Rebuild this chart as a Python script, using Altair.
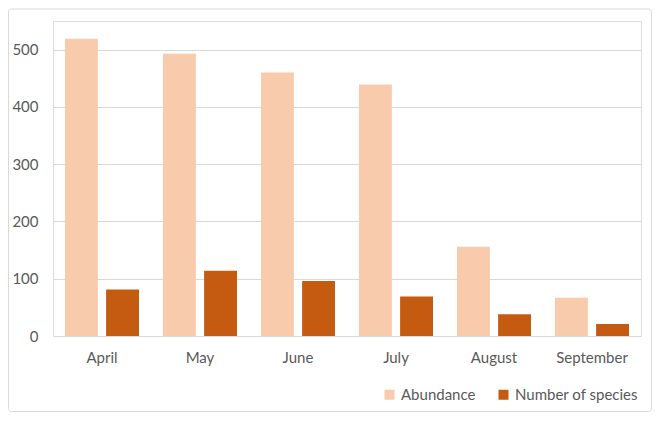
import altair as alt
import pandas as pd

months = ["April", "May", "June", "July", "August", "September"]
abundance = [519, 493, 460, 439, 156, 67]
species = [81, 114, 96, 69, 38, 21]
series = ["Abundance", "Number of species"]
colors = ["#F8CBAD", "#C55A11"]

rows = []
for m, a, s in zip(months, abundance, species):
    rows.append({"month": m, "series": series[0], "value": a})
    rows.append({"month": m, "series": series[1], "value": s})
df = pd.DataFrame(rows)

FONT = "Lato"
TXT = "#595959"
FS = 15

bars = alt.Chart(df).mark_bar().encode(
    x=alt.X("month:N", sort=months, title=None,
            scale=alt.Scale(paddingInner=0.245, paddingOuter=0.1225),
            axis=alt.Axis(labelAngle=0, ticks=False, domainColor="#D9D9D9",
                          labelPadding=14, labelFontSize=FS, labelColor=TXT, labelFont=FONT)),
    xOffset=alt.XOffset("series:N", sort=series,
                        scale=alt.Scale(paddingInner=0.2, paddingOuter=0)),
    y=alt.Y("value:Q", title=None,
            scale=alt.Scale(domain=[0, 550], nice=False),
            axis=alt.Axis(values=[0, 100, 200, 300, 400, 500], ticks=False, domain=False,
                          gridColor="#D9D9D9", labelPadding=15, labelFontSize=FS,
                          labelColor=TXT, labelFont=FONT)),
    color=alt.Color("series:N", sort=series,
                    scale=alt.Scale(domain=series, range=colors),
                    legend=alt.Legend(title=None, orient="none", direction="horizontal",
                                      legendX=329, legendY=366, symbolType="square",
                                      symbolSize=100, labelFontSize=FS, labelColor=TXT,
                                      labelFont=FONT, columnPadding=20, labelOffset=4,
                                      symbolStrokeWidth=0)),
)

frame = alt.Chart(pd.DataFrame({"k": [0]})).mark_rect(
    fill=None, stroke="#D9D9D9", strokeWidth=1, cornerRadius=3
).encode(
    x=alt.value(-44.5), x2=alt.value(598.5),
    y=alt.value(-12), y2=alt.value(390.5),
)

chart = alt.layer(frame, bars).properties(
    width=588, height=315,
    padding={"left": 0, "top": 0, "right": 0, "bottom": 0},
).configure_view(stroke=None).configure(background="white")

chart.save("out.html", embed_options={"renderer": "svg", "actions": False})
